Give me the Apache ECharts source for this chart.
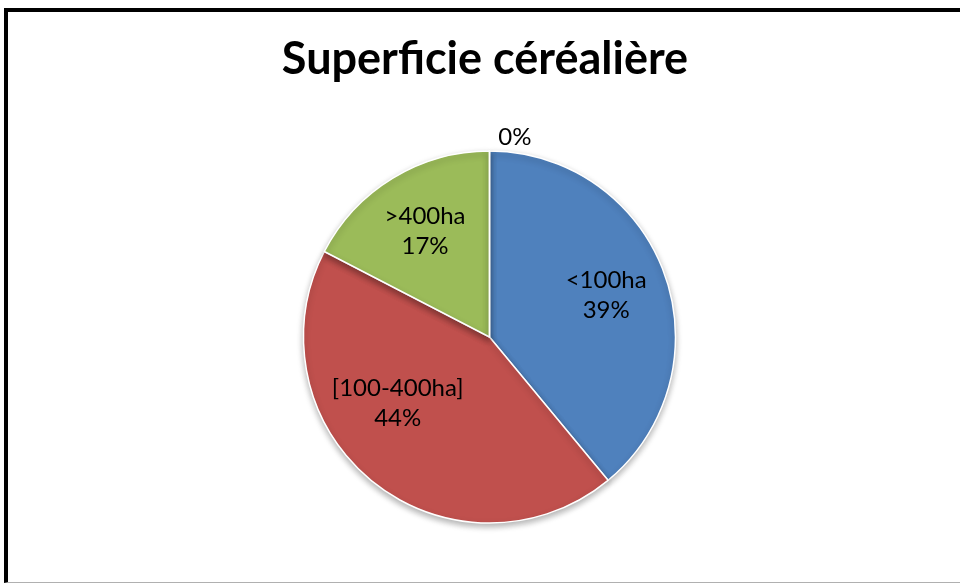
<!DOCTYPE html>
<html>
<head>
<meta charset="utf-8">
<script src="https://cdn.jsdelivr.net/npm/echarts@6/dist/echarts.min.js"></script>
<style>
  body { margin: 0; background: #fff; }
  #frame {
    position: absolute; left: 4px; top: 8px; width: 980px; height: 570px;
    border-left: 4px solid #000; border-top: 4px solid #000; border-bottom: 1px solid #b0b0b0;
  }
  #chartsDom { position: absolute; left: 0; top: 0; width: 960px; height: 583px; }
</style>
</head>
<body>
<div id="frame"></div>
<div id="chartsDom"></div>
<script>
// données
const categories = ["<100ha", "[100-400ha]", ">400ha", ""];
const values = [39.0, 43.6, 17.4, 0];
const colors = ["#4F81BD", "#C0504D", "#9BBB59", "#8064A2"];

const font = "Lato";
const myChart = echarts.init(document.getElementById("chartsDom"));

const pct = p => Math.round(p.percent) + "%";

// série visible : secteurs + étiquette du 0%
const mainData = categories.map((c, i) => ({
  name: c,
  value: values[i],
  itemStyle: { color: colors[i] },
  label: values[i] === 0
    ? { show: true, position: "outside", formatter: pct, offset: [59, 0] }
    : { show: false }
}));

// série fantôme : seulement les étiquettes intérieures
const labelData = categories.map((c, i) => ({
  name: c,
  value: values[i],
  label: { show: values[i] !== 0, offset: i === 1 ? [-14, -30] : [0, 0] }
}));

let option = {
  animation: false,
  title: {
    text: "Superficie céréalière",
    left: 480,
    top: 32,
    textAlign: "center",
    textStyle: { fontFamily: font, fontWeight: "bold", fontSize: 45, color: "#000" }
  },
  series: [
    {
      type: "pie",
      center: [489.5, 337],
      radius: 186,
      startAngle: 90,
      clockwise: true,
      silent: true,
      itemStyle: {
        borderColor: "#fff",
        borderWidth: 1.5,
        shadowBlur: 6,
        shadowOffsetY: 3,
        shadowColor: "rgba(0,0,0,0.3)"
      },
      label: { fontFamily: font, fontSize: 24, color: "#000" },
      labelLine: { show: false, length: 14, length2: 12 },
      data: mainData
    },
    {
      type: "pie",
      center: [489.5, 337],
      radius: 242,
      startAngle: 90,
      clockwise: true,
      silent: true,
      itemStyle: { color: "transparent", borderWidth: 0 },
      label: {
        show: true,
        position: "inside",
        fontFamily: font,
        fontSize: 24,
        lineHeight: 30,
        color: "#000",
        formatter: p => p.name + "\n" + pct(p)
      },
      labelLine: { show: false },
      data: labelData
    }
  ]
};
option && myChart.setOption(option);
</script>
</body>
</html>
